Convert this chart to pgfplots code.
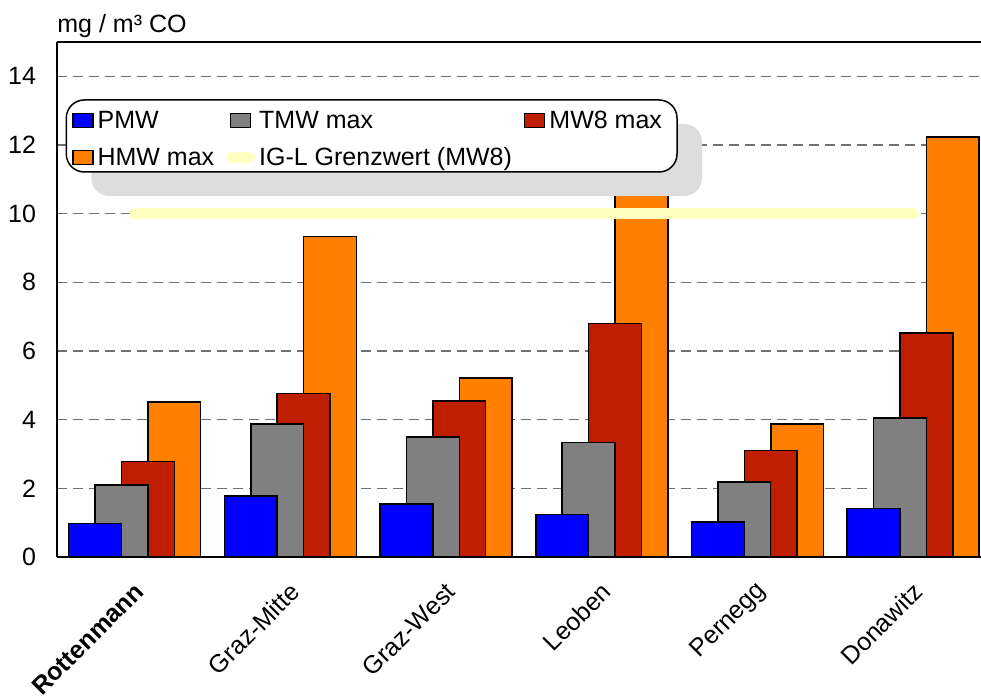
\documentclass[border=0pt]{standalone}
\usepackage{pgfplots}
\pgfplotsset{compat=1.18}
\usepackage{pgfplotstable}
\usepackage{fontspec}
\setmainfont{Liberation Sans}

\definecolor{cPMW}{HTML}{0000FF}
\definecolor{cTMW}{HTML}{808080}
\definecolor{cMWeight}{HTML}{C01E00}
\definecolor{cHMW}{HTML}{FF8000}
\definecolor{cLimit}{HTML}{FFFFC0}
\definecolor{cGrid}{HTML}{707070}
\definecolor{cShadow}{HTML}{DDDDDD}

% CO measurements per station, mg/m3
\pgfplotstableread{
i  PMW   TMW   MWeight HMW
0  0.97  2.10  2.78    4.52
1  1.78  3.88  4.76    9.34
2  1.54  3.49  4.54    5.22
3  1.24  3.34  6.80    11.80
4  1.02  2.18  3.10    3.87
5  1.41  4.05  6.53    12.23
}\codata

% IG-L limit value (MW8), spanning the first to the last station
\pgfplotstableread{
x    y
0.5  10
5.5  10
}\limitdata

\tikzset{legendkey/.style={sharp corners, draw=black, line width=0.6pt}}

\begin{document}
\begin{tikzpicture}
\begin{axis}[
  scale only axis,
  width=462pt, height=257.5pt,
  xmin=0, xmax=5.9345,
  ymin=0, ymax=15,
  clip=false,
  axis x line*=bottom,
  axis y line*=left,
  axis line style={black, line width=0.75pt},
  major tick length=0pt,
  ytick={0,2,...,14},
  xtick={0.5,1.5,...,5.5},
  xticklabels={\textbf{Rottenmann},Graz-Mitte,Graz-West,Leoben,Pernegg,Donawitz},
  ymajorgrids,
  grid style={cGrid, line width=0.75pt, dash pattern=on 5pt off 3pt},
  tick label style={font=\fontsize{12.5}{15}\selectfont},
  /pgf/number format/assume math mode=true,
  yticklabel style={xshift=-7pt},
  xticklabel style={xshift=4.75pt, yshift=-12.75pt, rotate=45, anchor=east},
  legend columns=3,
  legend cell align=left,
  legend style={
    at={(0.01623,0.8660)}, anchor=north west,
    draw=none, fill=none,
    inner sep=0pt,
    row sep=9.35pt,
    font=\fontsize{12.5}{15}\selectfont,
    nodes={inner sep=0pt, text height=8.5pt, text depth=0.5pt},
    /tikz/every odd column/.append style={column sep=2pt},
    /tikz/every even column/.append style={column sep=6.15pt},
    /tikz/column 3/.append style={column sep=1.75pt},
    /tikz/column 4/.append style={column sep=3.1pt},
    /tikz/column 5/.append style={column sep=0.5pt},
  },
]
% legend keys, in reading order
\addlegendimage{legend image code/.code={\draw[legendkey, fill=cPMW] (0pt,-3.5pt) rectangle (10pt,3.5pt);}}
\addlegendentry{PMW}
\addlegendimage{legend image code/.code={\draw[legendkey, fill=cTMW] (0pt,-3.5pt) rectangle (10pt,3.5pt);}}
\addlegendentry{TMW max}
\addlegendimage{legend image code/.code={\draw[legendkey, fill=cMWeight] (0pt,-3.5pt) rectangle (10pt,3.5pt);}}
\addlegendentry{MW8 max}
\addlegendimage{legend image code/.code={\draw[legendkey, fill=cHMW] (0pt,-3.5pt) rectangle (10pt,3.5pt);}}
\addlegendentry{HMW max}
\addlegendimage{legend image code/.code={\draw[cLimit, line width=5.5pt, line cap=round] (0.6pt,0pt) -- (9.4pt,0pt);}}
\addlegendentry{IG-L Grenzwert (MW8)}

% bars, back to front
\addplot[forget plot, ybar, bar width=0.339, bar shift=0pt, fill=cHMW, draw=black, line width=0.75pt]
  table[x expr=\thisrow{i}+0.7536, y=HMW] {\codata};
\addplot[forget plot, ybar, bar width=0.339, bar shift=0pt, fill=cMWeight, draw=black, line width=0.75pt]
  table[x expr=\thisrow{i}+0.5840, y=MWeight] {\codata};
\addplot[forget plot, ybar, bar width=0.339, bar shift=0pt, fill=cTMW, draw=black, line width=0.75pt]
  table[x expr=\thisrow{i}+0.4143, y=TMW] {\codata};
\addplot[forget plot, ybar, bar width=0.339, bar shift=0pt, fill=cPMW, draw=black, line width=0.75pt]
  table[x expr=\thisrow{i}+0.2447, y=PMW] {\codata};

% limit line
\addplot[forget plot, cLimit, line width=5.5pt, line cap=round, mark=none]
  table[x=x, y=y] {\limitdata};

% top frame edge
\draw[black, line width=0.75pt] (rel axis cs:0,1) -- (rel axis cs:1,1);

% legend panel with its offset shadow
\fill[cShadow, rounded corners=9pt] (rel axis cs:0.03712,0.7010) rectangle (rel axis cs:0.6981,0.8408);
\draw[black, fill=white, line width=0.75pt, rounded corners=9pt] (rel axis cs:0.01006,0.7476) rectangle (rel axis cs:0.671,0.8874);

\node[anchor=base west, font=\fontsize{12.5}{15}\selectfont, inner sep=0pt]
  at ([yshift=5pt]rel axis cs:0,1) {mg / m³ CO};
\end{axis}
\pgfresetboundingbox
\path (-28.5pt,-70pt) rectangle (462pt,278.5pt);
\end{tikzpicture}
\end{document}
